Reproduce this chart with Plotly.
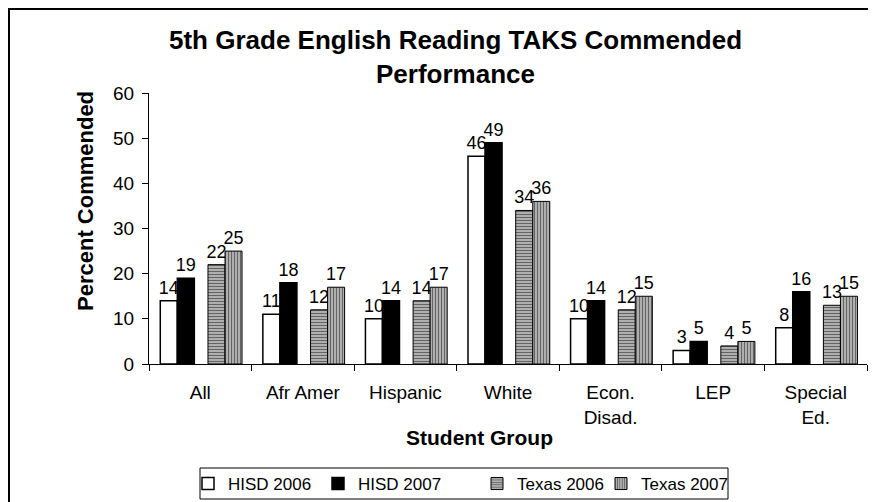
import plotly.graph_objects as go

categories = ["All", "Afr Amer", "Hispanic", "White", "Econ.<br>Disad.", "LEP", "Special<br>Ed."]
hisd_2006 = [14, 11, 10, 46, 10, 3, 8]
hisd_2007 = [19, 18, 14, 49, 14, 5, 16]
texas_2006 = [22, 12, 14, 34, 12, 4, 13]
texas_2007 = [25, 17, 17, 36, 15, 5, 15]
y_ticks = [0, 10, 20, 30, 40, 50, 60]

# page has an 8px body margin: figure is drawn 8px right/down of the page origin
SHIFT = 8
W, H = 876 - SHIFT, 502 - SHIFT
# plot area in reference (page) pixels
L, R, T, B = 149, 867, 93, 364

def px_x(p):
    return (p - L) / (R - L)

def px_y(p):
    return (B - p) / (B - T)

font = "Arial, Liberation Sans, sans-serif"
bw = 0.166
series = [
    ("HISD 2006", hisd_2006, -0.39, dict(color="white", line=dict(color="black", width=1.5)), 188),
    ("HISD 2007", hisd_2007, -0.224, dict(color="black", line=dict(color="black", width=1.5)), 318),
    ("Texas 2006", texas_2006, 0.075, dict(color="white", line=dict(color="black", width=1),
                                           pattern=dict(shape="-", fgcolor="black", bgcolor="#c8c8c8", size=3, solidity=0.5)), 477),
    ("Texas 2007", texas_2007, 0.241, dict(color="white", line=dict(color="black", width=1),
                                           pattern=dict(shape="|", fgcolor="black", bgcolor="#c8c8c8", size=3, solidity=0.5)), 601),
]

fig = go.Figure()
legends = {}
for i, (name, vals, off, marker, lx) in enumerate(series):
    lname = "legend" if i == 0 else f"legend{i + 1}"
    fig.add_trace(go.Bar(
        name=name, x=categories, y=vals, offset=off, width=bw,
        marker=marker, text=[str(v) for v in vals], textposition="outside",
        constraintext="none",
        textfont=dict(family=font, size=18, color="black"), cliponaxis=False,
        legend=lname, showlegend=True,
    ))
    legends[lname] = dict(x=px_x(lx), y=px_y(484), xanchor="left", yanchor="middle",
                          bgcolor="rgba(0,0,0,0)", borderwidth=0, itemwidth=30,
                          font=dict(family=font, size=17, color="black"))

fig.update_layout(
    width=W, height=H,
    margin=dict(l=L - SHIFT, r=(876 - R), t=T - SHIFT, b=H - (B - SHIFT), autoexpand=False),
    paper_bgcolor="white", plot_bgcolor="white",
    barmode="overlay",
    font=dict(family=font, color="black"),
    xaxis=dict(showline=True, linecolor="black", linewidth=1, ticks="outside", tickson="boundaries",
               ticklen=6, tickcolor="black", tickfont=dict(family=font, size=19, color="black"),
               ticklabelstandoff=11, showgrid=False, fixedrange=True, automargin=False),
    yaxis=dict(range=[0, 60], tickvals=y_ticks, showline=True, linecolor="black", linewidth=1,
               ticks="outside", ticklen=6, tickcolor="black", tickfont=dict(family=font, size=19, color="black"),
               ticklabelstandoff=4, showgrid=False, zeroline=False, automargin=False),
    shapes=[
        dict(type="rect", xref="paper", yref="paper", x0=px_x(9), x1=px_x(900), y0=px_y(520), y1=px_y(9),
             line=dict(color="black", width=2), layer="below"),
        dict(type="rect", xref="paper", yref="paper", x0=px_x(200), x1=px_x(728), y0=px_y(499), y1=px_y(468),
             line=dict(color="black", width=1), layer="below"),
    ],
    annotations=[
        dict(text="<b>5th Grade English Reading TAKS Commended<br>Performance</b>", xref="paper", yref="paper",
             x=px_x(455), y=px_y(57), xanchor="center", yanchor="middle", showarrow=False,
             font=dict(family=font, size=26, color="black")),
        dict(text="<b>Percent Commended</b>", xref="paper", yref="paper", x=px_x(85), y=px_y(201),
             xanchor="center", yanchor="middle", textangle=-90, showarrow=False,
             font=dict(family=font, size=22, color="black")),
        dict(text="<b>Student Group</b>", xref="paper", yref="paper", x=px_x(479), y=px_y(437),
             xanchor="center", yanchor="middle", showarrow=False,
             font=dict(family=font, size=21, color="black")),
    ],
    **legends,
)

fig.write_html("out.html")
